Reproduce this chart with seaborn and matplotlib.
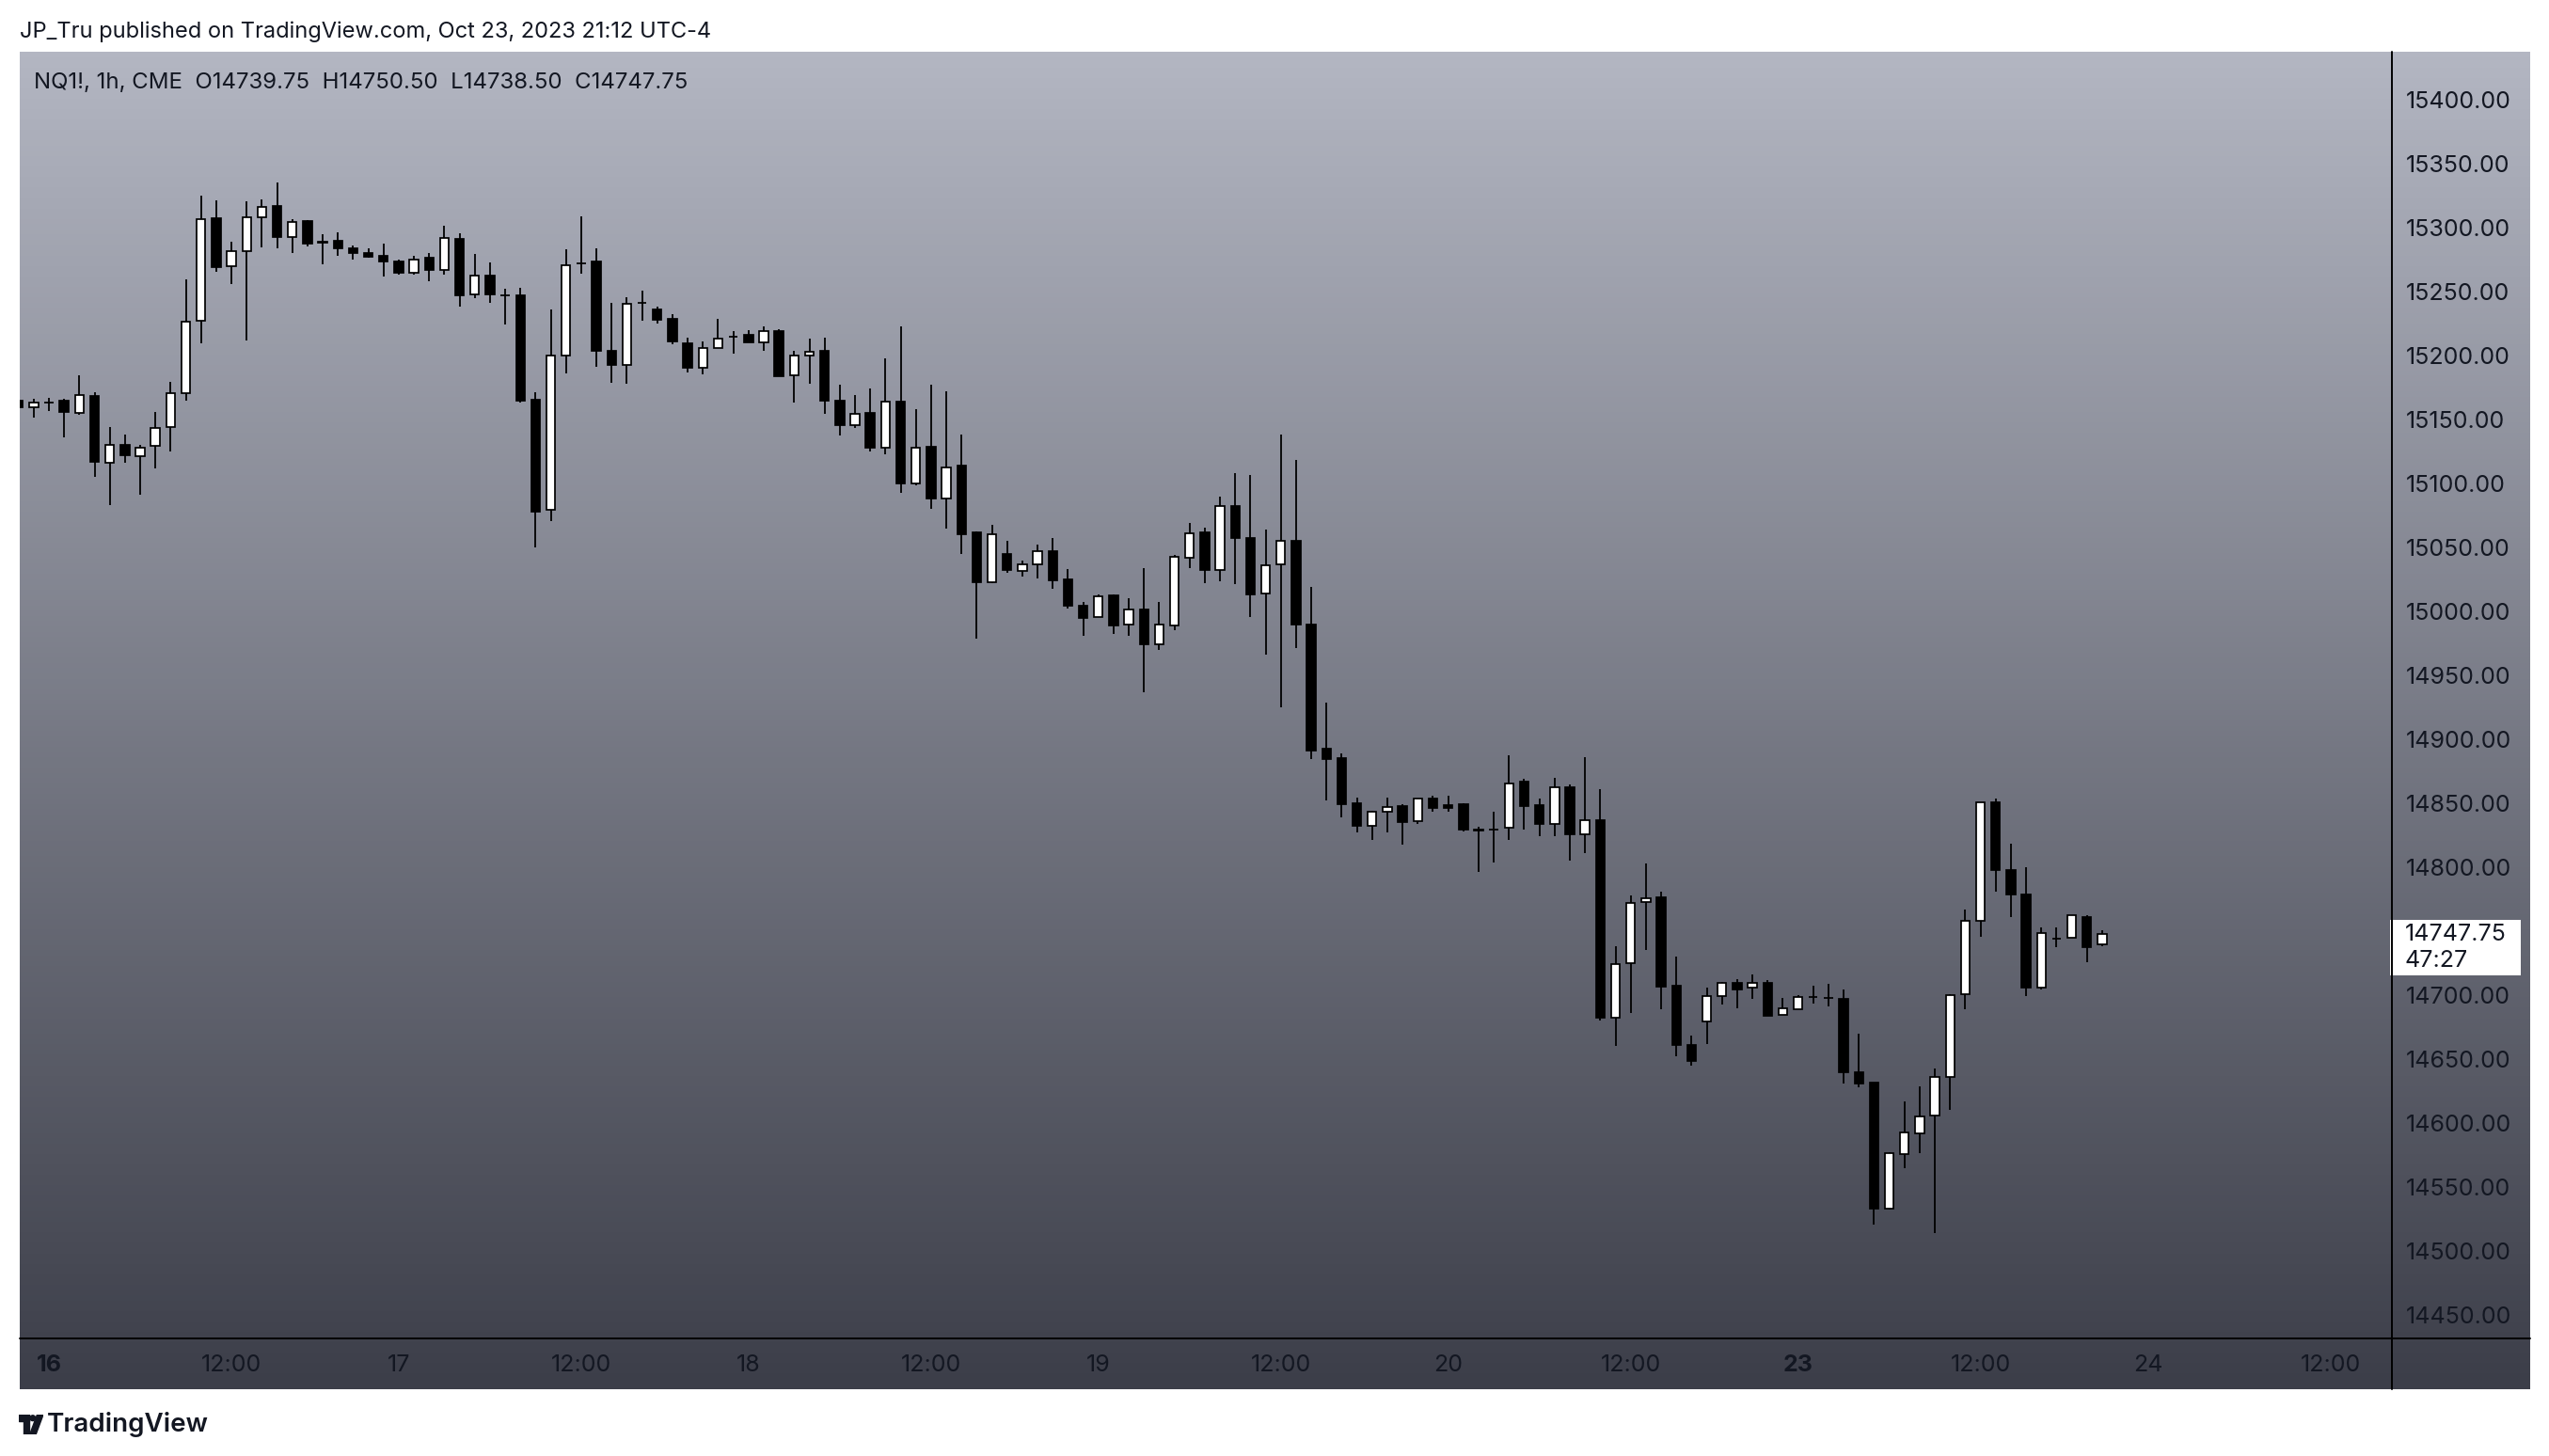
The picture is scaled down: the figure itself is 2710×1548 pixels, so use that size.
import numpy as np
import pandas as pd
import seaborn as sns
import matplotlib.pyplot as plt
from matplotlib.patches import Rectangle, Polygon, Circle
from matplotlib.lines import Line2D
from matplotlib.colors import LinearSegmentedColormap

W, H = 2710, 1548

# NQ1! 1h candles, bar 0 = Oct 16 00:00 (first two bars are Oct 15 22:00 / 23:00)
first_bar = -2
opens = [15165, 15160, 15163.25, 15165, 15155.5, 15168.5, 15116.5, 15130.5, 15121.75, 15129.25,
         15144.5, 15171, 15227, 15307.5, 15270.25, 15282, 15308.5, 15317, 15292.75, 15305.5,
         15289, 15289.75, 15284, 15280.5, 15278, 15274, 15264.75, 15276.5, 15267, 15291.5,
         15247.75, 15262.75, 15247.5, 15247.25, 15165.75, 15079.25, 15200.25, 15272.5, 15273.75, 15204,
         15193, 15241.5, 15236.5, 15228.5, 15210, 15190.75, 15206.25, 15215, 15216.5, 15210.5,
         15219.5, 15184.75, 15200, 15204, 15165, 15145.5, 15155, 15128.25, 15164.25, 15100.25,
         15128.5, 15088.5, 15113.75, 15061.5, 15023, 15044.75, 15032, 15037, 15046.75, 15025,
         15004.25, 14995.25, 15012.5, 14989.5, 15001.75, 14974, 14989.25, 15042.25, 15061.5, 15032.75,
         15082.75, 15057.25, 15014.25, 15037, 15055.5, 14990, 14892.5, 14885.25, 14850, 14832.25,
         14843.5, 14848, 14836, 14853.75, 14848.25, 14849.5, 14829, 14829.25, 14830.75, 14867,
         14848.5, 14833.75, 14862.25, 14825.75, 14836.5, 14682.5, 14725, 14773, 14776.5, 14707.5,
         14661.25, 14679.5, 14699.25, 14709.5, 14705.5, 14709.75, 14684.5, 14689, 14698.75, 14698,
         14697, 14639.75, 14631.25, 14533, 14575.5, 14592, 14606, 14636.25, 14700.75, 14758,
         14850.5, 14797.75, 14778.5, 14706, 14744, 14745, 14761, 14739.75]
highs = [15167, 15166, 15167, 15166.5, 15185, 15171.5, 15144, 15138.5, 15130, 15156,
         15179.75, 15259.5, 15325.25, 15321.25, 15289, 15320.5, 15322.25, 15335.75, 15307, 15306.25,
         15295.25, 15296.75, 15286.5, 15284.25, 15288, 15275.5, 15278.25, 15280.5, 15301.75, 15295.5,
         15279.75, 15272.75, 15252.5, 15253, 15171.5, 15236.5, 15283.5, 15309.25, 15284.25, 15241,
         15246, 15251, 15238.25, 15232.75, 15213.75, 15211.5, 15228.5, 15219.5, 15220.25, 15223.25,
         15221, 15204, 15213, 15213.75, 15177, 15169.5, 15174, 15198.25, 15223.25, 15158.5,
         15177, 15172.5, 15138, 15062.25, 15068, 15055, 15039.5, 15052, 15057.25, 15033,
         15007.25, 15013, 15013.5, 15010.25, 15033.75, 15007.25, 15044, 15069, 15065.25, 15089.5,
         15108.5, 15107, 15063.75, 15138, 15118.25, 15019, 14928.75, 14889, 14854.5, 14844,
         14854.5, 14849.5, 14854, 14855.75, 14855.75, 14850.25, 14831.5, 14843.25, 14887.5, 14869,
         14853.75, 14870, 14864.75, 14886, 14861, 14738.5, 14778, 14803, 14780.75, 14730,
         14668.5, 14705.5, 14710.5, 14712.75, 14715.75, 14711.75, 14697.75, 14700.25, 14707.5, 14709,
         14704.5, 14669.5, 14631.25, 14577, 14616.5, 14628.25, 14642.25, 14700.75, 14767, 14851,
         14853.75, 14818.5, 14800, 14752.5, 14752.5, 14762.25, 14762.25, 14750.5]
lows = [15158, 15151.75, 15156.5, 15136, 15153.5, 15105.25, 15083, 15116.25, 15091.25, 15112,
        15125, 15164.75, 15209.5, 15265.25, 15255.75, 15211.75, 15284.5, 15283.75, 15280, 15285.25,
        15271.25, 15277.75, 15275.5, 15276.5, 15262.25, 15263, 15263, 15258, 15263, 15238.25,
        15244.75, 15241, 15224.25, 15163.25, 15050.25, 15070.75, 15186, 15264, 15191, 15178.5,
        15177.75, 15227.25, 15225, 15208.75, 15186.75, 15185.25, 15206.25, 15201.5, 15210.25, 15203.5,
        15184.25, 15163, 15177.75, 15154.25, 15137.25, 15143.25, 15124.75, 15122.5, 15092.5, 15098.5,
        15080, 15064.75, 15044.75, 14978.5, 15022, 15030.25, 15027, 15025.75, 15017.75, 15002.25,
        14981, 14995.25, 14982.5, 14981, 14937, 14970, 14985.5, 15033.75, 15022, 15023.5,
        15021.5, 14995.75, 14966.5, 14925.25, 14971.5, 14884.75, 14852.5, 14839.25, 14827.5, 14821,
        14827.5, 14817.25, 14833.75, 14843.25, 14843, 14827.75, 14796, 14803.25, 14821, 14829,
        14824, 14824, 14804.75, 14810.75, 14680, 14660.25, 14686, 14735, 14688.75, 14652,
        14644.75, 14662, 14692.25, 14689.5, 14697.25, 14683.5, 14684.5, 14689, 14693, 14690.75,
        14630.75, 14628, 14520.5, 14532.25, 14564.5, 14576.5, 14514, 14610.5, 14688.75, 14745.25,
        14780.5, 14760.75, 14699, 14704.25, 14737.25, 14745, 14725.5, 14738.5]
closes = [15160, 15163, 15163.5, 15156, 15169, 15117, 15130, 15122.25, 15128, 15143.5,
          15170.5, 15226.5, 15307, 15269.25, 15281.5, 15308, 15316.25, 15292.5, 15304.5, 15287.5,
          15288.5, 15283.75, 15280, 15277.5, 15273.5, 15264.5, 15275.5, 15266.75, 15291.75, 15247,
          15262.5, 15248, 15247, 15164.75, 15078.25, 15200, 15270.5, 15272, 15203.75, 15192.5,
          15240.5, 15241.25, 15228, 15211, 15190.5, 15206, 15213.25, 15214.75, 15210.25, 15219,
          15184.25, 15200.25, 15203, 15164.5, 15145.5, 15154.5, 15128, 15164.25, 15100, 15128.25,
          15088.25, 15112.5, 15060.5, 15023, 15060.5, 15032.5, 15037, 15046.75, 15024.5, 15004.5,
          14995, 15011.5, 14989, 15001.75, 14974.5, 14989.5, 15043, 15061.25, 15032.5, 15082.5,
          15057.5, 15013.5, 15036, 15055.25, 14990, 14891.5, 14884.75, 14849.5, 14832, 14843.25,
          14847.25, 14835.5, 14854, 14846.25, 14846.5, 14829.5, 14828.75, 14829, 14865.75, 14848,
          14833.5, 14862.75, 14825.5, 14837, 14682.25, 14724, 14771.75, 14776, 14706.5, 14660.75,
          14648.25, 14699, 14709.25, 14704.25, 14709.25, 14683.5, 14689.5, 14698.5, 14698.75, 14698,
          14639.5, 14631, 14533, 14576, 14592.5, 14605, 14636, 14700, 14757.75, 14850.5,
          14797.5, 14778.25, 14705.5, 14748.25, 14744, 14762.25, 14737.25, 14747.75]

tick_bars = [0, 12, 23, 35, 46, 58, 69, 81, 92, 104, 115, 127, 138, 150]
tick_labels = ["16", "12:00", "17", "12:00", "18", "12:00", "19", "12:00",
               "20", "12:00", "23", "12:00", "24", "12:00"]
bold_ticks = ["16", "23"]
price_ticks = [14450, 14500, 14550, 14600, 14650, 14700, 14750, 14800, 14850, 14900, 14950,
               15000, 15050, 15100, 15150, 15200, 15250, 15300, 15350, 15400]

df = pd.DataFrame({"open": opens, "high": highs, "low": lows, "close": closes})
df["bar"] = np.arange(first_bar, first_bar + len(df))
df["up"] = df["close"] > df["open"]

sns.set_theme(style="white")
plt.rcParams["font.family"] = ["Inter", "DejaVu Sans"]

TXT = "#131722"


def fx(x):
    return x / W


def fy(y):
    return 1 - y / H


fig = plt.figure(figsize=(W / 100, H / 100), dpi=100)
fig.patch.set_facecolor("white")

# gradient pane behind chart + axes
bg = fig.add_axes([fx(21), fy(1477), fx(2690 - 21), (1477 - 55) / H])
grad = LinearSegmentedColormap.from_list("tvbg", ["#b3b6c2", "#3c3e49"])
bg.imshow(np.linspace(0, 1, 256).reshape(-1, 1), aspect="auto", cmap=grad,
          extent=[0, 1, 0, 1], origin="upper")
bg.axis("off")

ax = fig.add_axes([fx(21), fy(1423), fx(2543 - 21), (1423 - 55) / H])
ax.set_facecolor("none")
for s in ax.spines.values():
    s.set_visible(False)

# wicks
ax.vlines(df["bar"], df["low"], df["high"], color="black", linewidth=1.3, zorder=2)
# bodies
bottoms = df[["open", "close"]].min(axis=1)
heights = (df["close"] - df["open"]).abs()
ax.bar(df["bar"], heights, bottom=bottoms, width=0.58,
       color=np.where(df["up"], "white", "black"), edgecolor="black",
       linewidth=1.25, zorder=3)

ax.set_xlim(-1.917, 154.05)
ax.set_ylim(14431.4, 15437.7)

ax.yaxis.tick_right()
ax.set_yticks(price_ticks)
ax.set_yticklabels([f"{p:.2f}" for p in price_ticks])
ax.tick_params(axis="y", length=0, pad=11, labelsize=18, labelcolor=TXT)
ax.set_xticks(tick_bars)
ax.set_xticklabels(tick_labels)
ax.tick_params(axis="x", length=0, pad=12, labelsize=18, labelcolor=TXT)
for lab in ax.get_xticklabels():
    if lab.get_text() in bold_ticks:
        lab.set_fontweight("bold")
ax.grid(False)

# separators between chart, price scale and time scale
fig.add_artist(Line2D([fx(2543), fx(2543)], [fy(55), fy(1477)], color="black", linewidth=1.4))
fig.add_artist(Line2D([fx(21), fx(2690)], [fy(1423), fy(1423)], color="black", linewidth=1.4))

# last price label
fig.add_artist(Rectangle((fx(2541), fy(1037)), fx(139), (1037 - 978) / H,
                         facecolor="white", edgecolor="none", transform=fig.transFigure))
fig.text(fx(2557), fy(993), "14747.75", fontsize=18, color=TXT, va="center", ha="left")
fig.text(fx(2557), fy(1021), "47:27", fontsize=18, color=TXT, va="center", ha="left")

# header and legend
fig.text(fx(21), fy(34), "JP_Tru published on TradingView.com, Oct 23, 2023 21:12 UTC-4",
         fontsize=17, color=TXT, va="center", ha="left")
fig.text(fx(36), fy(88), "NQ1!, 1h, CME  O14739.75  H14750.50  L14738.50  C14747.75",
         fontsize=17.3, color=TXT, va="center", ha="left")

# footer logo
lg = fig.add_axes([fx(20), fy(1525), fx(26), 21 / H])
lg.set_xlim(0, 1)
lg.set_ylim(0, 0.8)
lg.axis("off")
lg.add_patch(Rectangle((0, 0.52), 0.42, 0.28, color=TXT))
lg.add_patch(Rectangle((0.2, 0), 0.22, 0.8, color=TXT))
lg.add_patch(Circle((0.57, 0.66), 0.11, color=TXT))
lg.add_patch(Polygon([(0.45, 0), (0.7, 0), (1.0, 0.8), (0.75, 0.8)], color=TXT))
fig.text(fx(50), fy(1515), "TradingView", fontsize=20, fontweight="semibold",
         color=TXT, va="center", ha="left")

fig.savefig("out.png", dpi=100)
